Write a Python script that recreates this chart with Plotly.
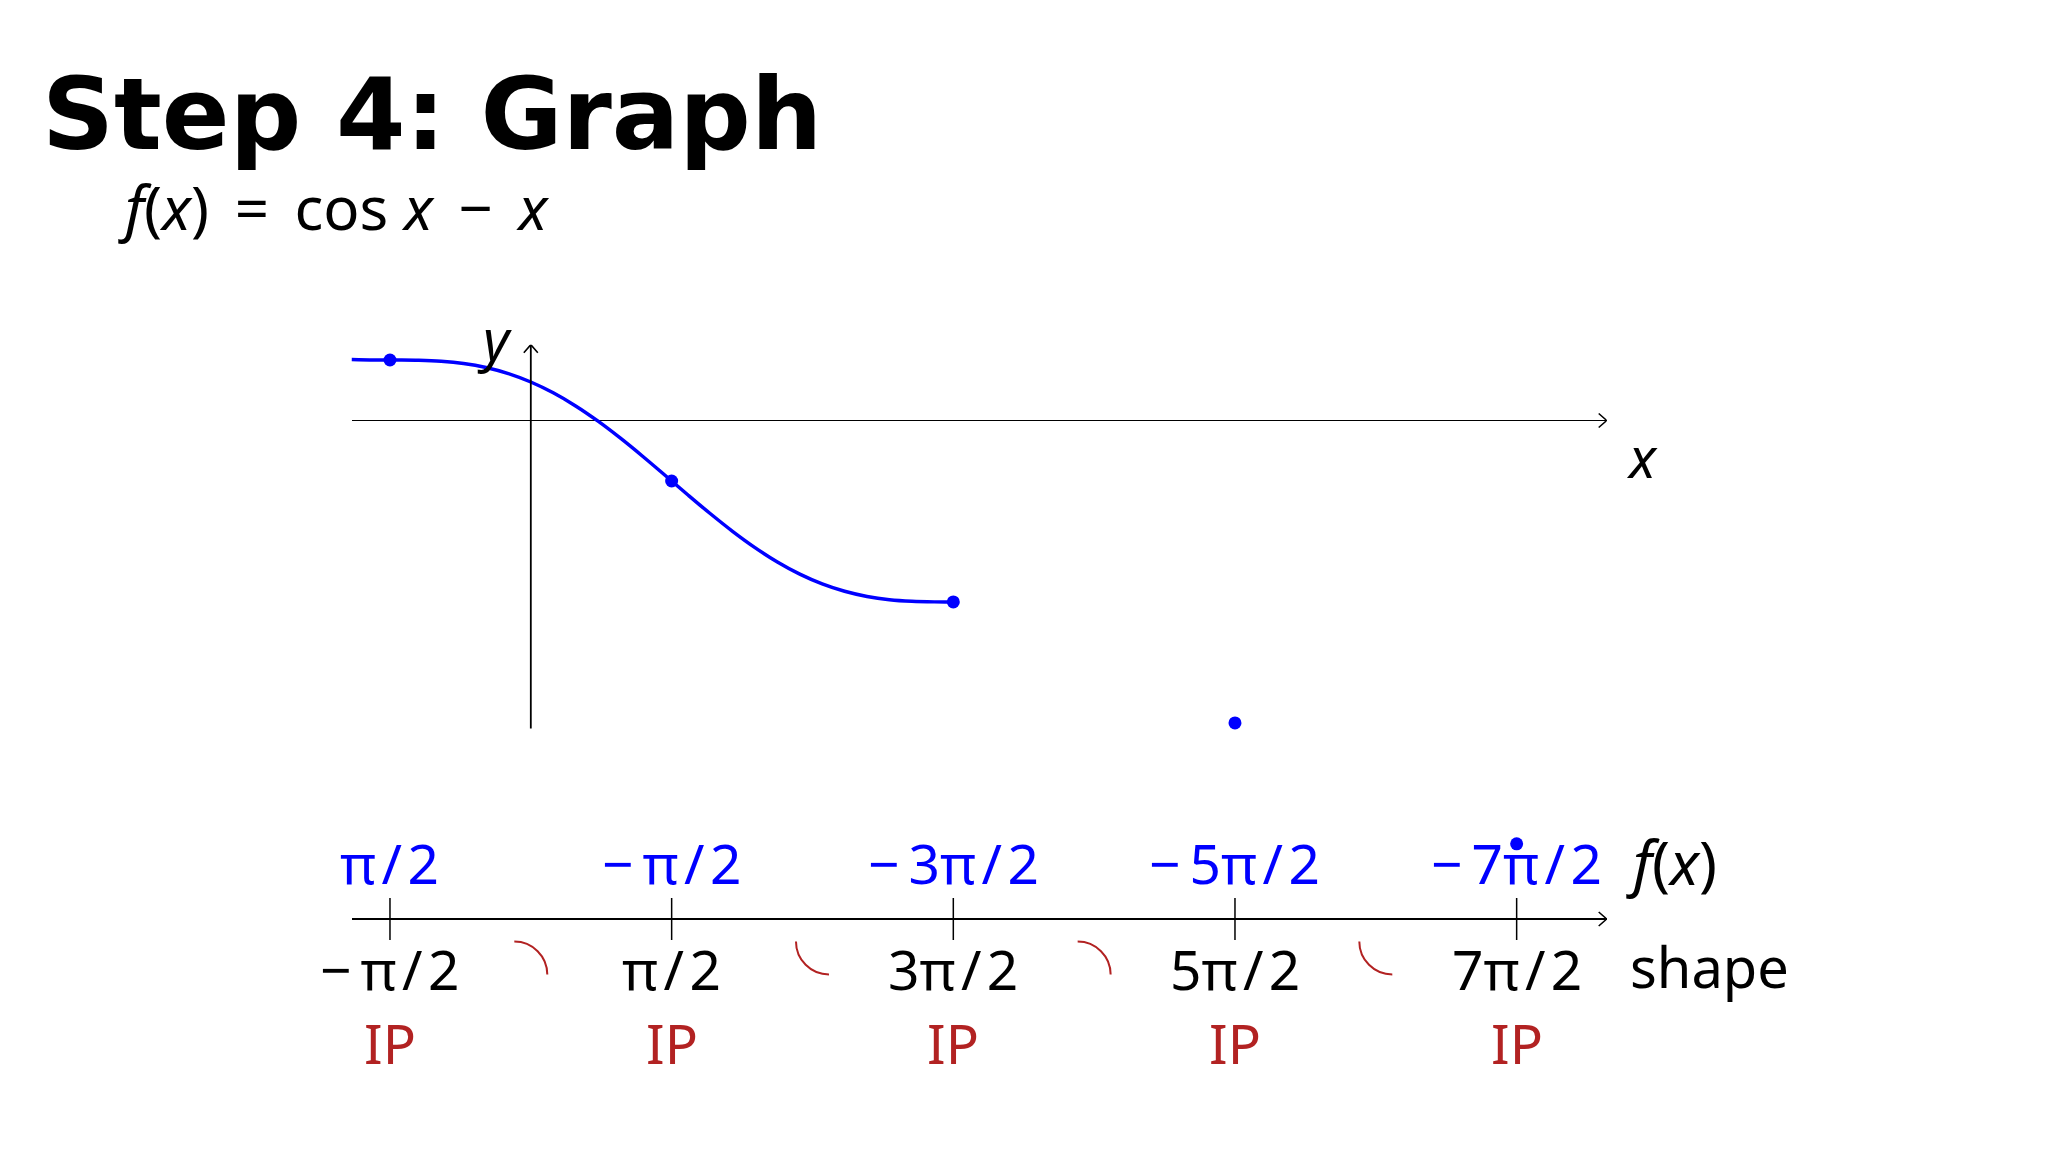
import plotly.graph_objects as go

W, H = 2048, 1152

# ---------------- data ----------------
curve_x = [-2.0, -1.75, -1.5, -1.25, -1.0, -0.75, -0.5, -0.25, 0.0, 0.25, 0.5, 0.75,
           1.0, 1.25, 1.5, 1.75, 2.0, 2.25, 2.5, 2.75, 3.0, 3.25, 3.5, 3.75, 4.0,
           4.25, 4.5, 4.712]
curve_y = [1.584, 1.572, 1.571, 1.565, 1.540, 1.482, 1.378, 1.219, 1.0, 0.719, 0.378,
           -0.018, -0.460, -0.935, -1.429, -1.928, -2.416, -2.878, -3.301, -3.674,
           -3.990, -4.244, -4.436, -4.570, -4.654, -4.696, -4.711, -4.712]

crit_x = [-1.5708, 1.5708, 4.7124, 7.8540, 10.9956]
crit_y = [1.5708, -1.5708, -4.7124, -7.8540, -10.9956]
x_labels = ["−π/2", "π/2", "3π/2", "5π/2", "7π/2"]
f_labels = ["π/2", "−π/2", "−3π/2", "−5π/2", "−7π/2"]
ip_labels = ["IP", "IP", "IP", "IP", "IP"]

interval_mid = [0.0, 3.1416, 6.2832, 9.4248]
concavity = ["down", "up", "down", "up"]

title_text = "Step 4: Graph"
formula_text = "<i>f</i>(<i>x</i>) \u2009= \u2009cos <i>x</i> \u2009− \u2009<i>x</i>"

X_RANGE = [-2.0, 12.0]
Y_RANGE = [-11.3, 1.97]
Y_AXIS_MIN = -8.0  # where the drawn y-axis stops

# ---------------- layout constants (pixels) ----------------
X_LEFT_PX, X_RIGHT_PX = 351.5, 1606.7
Y_SCALE = 38.5
Y0_PX = 420.5
NL_PX = 919.0      # sign-chart number line
NL_HALF = 150      # half height (px) of the sign-chart subplot

BLUE = "#0000FF"
RED = "#B22222"
MATH_FONT = "Noto Sans"
LABEL_SIZE = 55


def py(px):
    return 1 - px / H


def mathspace(s):
    # typographic spacing like TeX math: wider minus and slash
    return s.replace("−", "−\u2009").replace("/", "\u200A/\u200A")


y_bot_px = Y0_PX - Y_RANGE[0] * Y_SCALE
y_top_px = Y0_PX - Y_RANGE[1] * Y_SCALE

fig = go.Figure()

# curve
fig.add_trace(go.Scatter(x=curve_x, y=curve_y, mode="lines", line=dict(color=BLUE, width=3.5, shape="spline"),
                         hoverinfo="skip", showlegend=False, xaxis="x", yaxis="y"))
# critical points
fig.add_trace(go.Scatter(x=crit_x, y=crit_y, mode="markers", marker=dict(color=BLUE, size=13),
                         cliponaxis=False, hoverinfo="skip", showlegend=False, xaxis="x", yaxis="y"))
# ticks on sign chart
fig.add_trace(go.Scatter(x=crit_x, y=[0] * len(crit_x), mode="markers",
                         marker=dict(symbol="line-ns", size=30, line=dict(color="black", width=1.5)),
                         cliponaxis=False, hoverinfo="skip", showlegend=False, xaxis="x2", yaxis="y2"))

annotations = []
for xv, xl, fl, ip in zip(crit_x, x_labels, f_labels, ip_labels):
    annotations.append(dict(x=xv, y=57, xref="x2", yref="y2", text=mathspace(fl), showarrow=False,
                            font=dict(family=MATH_FONT, size=LABEL_SIZE, color=BLUE),
                            xanchor="center", yanchor="middle"))
    annotations.append(dict(x=xv, y=-49, xref="x2", yref="y2", text=mathspace(xl), showarrow=False,
                            font=dict(family=MATH_FONT, size=LABEL_SIZE, color="black"),
                            xanchor="center", yanchor="middle"))
    annotations.append(dict(x=xv, y=-123, xref="x2", yref="y2", text=ip, showarrow=False,
                            font=dict(family=MATH_FONT, size=LABEL_SIZE, color=RED),
                            xanchor="center", yanchor="middle"))

# right-side row labels
annotations.append(dict(x=1624 / W, y=py(862), xref="paper", yref="paper", text="<i>f</i>(<i>x</i>)",
                        showarrow=False, font=dict(family=MATH_FONT, size=60, color="black"),
                        xanchor="left", yanchor="middle"))
annotations.append(dict(x=1628 / W, y=py(966), xref="paper", yref="paper", text="shape",
                        showarrow=False, font=dict(family=MATH_FONT, size=56, color="black"),
                        xanchor="left", yanchor="middle"))
# axis labels
annotations.append(dict(x=1642 / W, y=py(456), xref="paper", yref="paper", text="<i>x</i>",
                        showarrow=False, font=dict(family=MATH_FONT, size=56, color="black"),
                        xanchor="center", yanchor="middle"))
annotations.append(dict(x=494 / W, y=py(338), xref="paper", yref="paper", text="<i>y</i>",
                        showarrow=False, font=dict(family=MATH_FONT, size=56, color="black"),
                        xanchor="center", yanchor="middle"))
# title and formula
annotations.append(dict(x=40 / W, y=py(115), xref="paper", yref="paper", text="<b>" + title_text + "</b>",
                        showarrow=False, font=dict(family="DejaVu Sans", size=100, color="black"),
                        xanchor="left", yanchor="middle"))
annotations.append(dict(x=116 / W, y=py(207), xref="paper", yref="paper", text=formula_text,
                        showarrow=False, font=dict(family=MATH_FONT, size=60, color="black"),
                        xanchor="left", yanchor="middle"))

shapes = []
# y-axis line (stops at Y_AXIS_MIN)
shapes.append(dict(type="line", xref="x", yref="y", x0=0, x1=0, y0=Y_AXIS_MIN, y1=Y_RANGE[1],
                   line=dict(color="black", width=1.8)))
# arrowheads
shapes.append(dict(type="path", xref="x", yref="y", xsizemode="pixel", ysizemode="pixel",
                   xanchor=X_RANGE[1], yanchor=0, path="M -8,7 L 0,0 L -8,-7",
                   line=dict(color="black", width=1.6)))
shapes.append(dict(type="path", xref="x", yref="y", xsizemode="pixel", ysizemode="pixel",
                   xanchor=0, yanchor=Y_RANGE[1], path="M -7,-8 L 0,0 L 7,-8",
                   line=dict(color="black", width=1.6)))
shapes.append(dict(type="path", xref="x2", yref="y2", xsizemode="pixel", ysizemode="pixel",
                   xanchor=X_RANGE[1], yanchor=0, path="M -8,7 L 0,0 L -8,-7",
                   line=dict(color="black", width=1.6)))
# concavity arcs
for xm, c in zip(interval_mid, concavity):
    if c == "down":
        path = "M -16.5,-22.5 C 1.7,-22.5 16.5,-37.3 16.5,-55.5"
    else:
        path = "M -16.5,-22.5 C -16.5,-40.7 -1.7,-55.5 16.5,-55.5"
    shapes.append(dict(type="path", xref="x2", yref="y2", xsizemode="pixel", ysizemode="pixel",
                       xanchor=xm, yanchor=0, path=path, line=dict(color=RED, width=2)))

axis_off = dict(showgrid=False, showticklabels=False, ticks="", showline=False)

fig.update_layout(
    width=W, height=H, autosize=False,
    margin=dict(l=0, r=0, t=0, b=0, pad=0),
    paper_bgcolor="white", plot_bgcolor="rgba(0,0,0,0)",
    showlegend=False,
    xaxis=dict(domain=[X_LEFT_PX / W, X_RIGHT_PX / W], range=X_RANGE, zeroline=False,
               anchor="y", **axis_off),
    yaxis=dict(domain=[py(y_bot_px), py(y_top_px)], range=Y_RANGE, zeroline=True,
               zerolinecolor="black", zerolinewidth=1.8, anchor="x", **axis_off),
    xaxis2=dict(domain=[X_LEFT_PX / W, X_RIGHT_PX / W], range=X_RANGE, zeroline=False,
                anchor="y2", **axis_off),
    yaxis2=dict(domain=[py(NL_PX + NL_HALF), py(NL_PX - NL_HALF)], range=[-NL_HALF, NL_HALF],
                zeroline=True, zerolinecolor="black", zerolinewidth=1.8, anchor="x2", **axis_off),
    annotations=annotations,
    shapes=shapes,
)

fig.write_html("out.html", config={"displayModeBar": False, "staticPlot": True},
               post_script="document.body.style.margin='0';document.body.style.overflow='hidden';")
